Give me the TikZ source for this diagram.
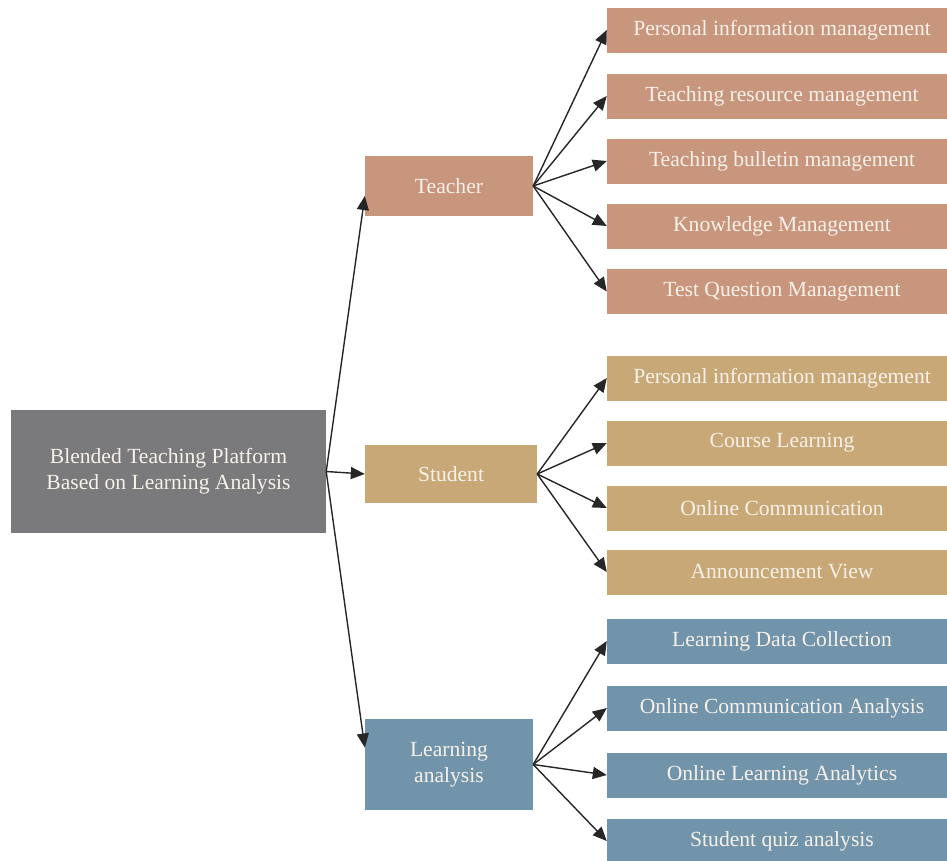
\documentclass[tikz,border=0pt]{standalone}
\usepackage{fontspec}
\setmainfont{Liberation Serif}
\usetikzlibrary{arrows.meta}
\definecolor{rootgray}{HTML}{7A7A7C}
\definecolor{teachbrown}{HTML}{C8957D}
\definecolor{studtan}{HTML}{C8A877}
\definecolor{anablue}{HTML}{7294AB}
\definecolor{boxtext}{HTML}{F7F1EA}
\begin{document}
\begin{tikzpicture}[x=1pt,y=-1pt,
    box/.style={inner sep=0pt,text=boxtext,align=center,
      font=\fontsize{21.6}{26}\selectfont},
    rootbox/.style={box,fill=rootgray,minimum width=315pt,minimum height=123pt},
    tbox/.style={box,fill=teachbrown,minimum width=350pt,minimum height=45pt},
    sbox/.style={box,fill=studtan,minimum width=350pt,minimum height=45pt},
    lbox/.style={box,fill=anablue,minimum width=350pt,minimum height=45pt},
    link/.style={draw=black!85,line width=1.4pt,-{Triangle[length=14pt,width=12pt]}}]
   \useasboundingbox (0,0) rectangle (947,860);
   % root
   \node[rootbox] (root) at (168.5,471.5) {Blended Teaching Platform\\Based on Learning Analysis};
   % second level
   \node[box,fill=teachbrown,minimum width=168pt,minimum height=60pt] (teacher) at (449,186) {Teacher};
   \node[box,fill=studtan,minimum width=172pt,minimum height=58pt] (student) at (451,474) {Student};
   \node[box,fill=anablue,minimum width=168pt,minimum height=91pt] (analysis) at (449,764.5) {Learning\\analysis};
   % teacher modules
   \node[tbox] (t1) at (782,30) {Personal information management};
   \node[tbox] (t2) at (782,96) {Teaching resource management};
   \node[tbox] (t3) at (782,161) {Teaching bulletin management};
   \node[tbox] (t4) at (782,226) {Knowledge Management};
   \node[tbox] (t5) at (782,291.5) {Test Question Management};
   % student modules
   \node[sbox] (s1) at (782,378) {Personal information management};
   \node[sbox] (s2) at (782,443) {Course Learning};
   \node[sbox] (s3) at (782,508) {Online Communication};
   \node[sbox] (s4) at (782,572) {Announcement View};
   % analysis modules
   \node[lbox] (l1) at (782,641) {Learning Data Collection};
   \node[lbox] (l2) at (782,708) {Online Communication Analysis};
   \node[lbox] (l3) at (782,775) {Online Learning Analytics};
   \node[lbox] (l4) at (782,841) {Student quiz analysis};
   % connectors
   \draw[link] (root.east) -- ([yshift=-10pt]teacher.west);
   \draw[link] (root.east) -- (student.west);
   \draw[link] (root.east) -- ([yshift=17pt]analysis.west);
   \draw[link] (teacher.east) -- (t1.west);
   \draw[link] (teacher.east) -- (t2.west);
   \draw[link] (teacher.east) -- (t3.west);
   \draw[link] (teacher.east) -- (t4.west);
   \draw[link] (teacher.east) -- (t5.west);
   \draw[link] (student.east) -- (s1.west);
   \draw[link] (student.east) -- (s2.west);
   \draw[link] (student.east) -- (s3.west);
   \draw[link] (student.east) -- (s4.west);
   \draw[link] (analysis.east) -- (l1.west);
   \draw[link] (analysis.east) -- (l2.west);
   \draw[link] (analysis.east) -- (l3.west);
   \draw[link] (analysis.east) -- (l4.west);
\end{tikzpicture}
\end{document}
